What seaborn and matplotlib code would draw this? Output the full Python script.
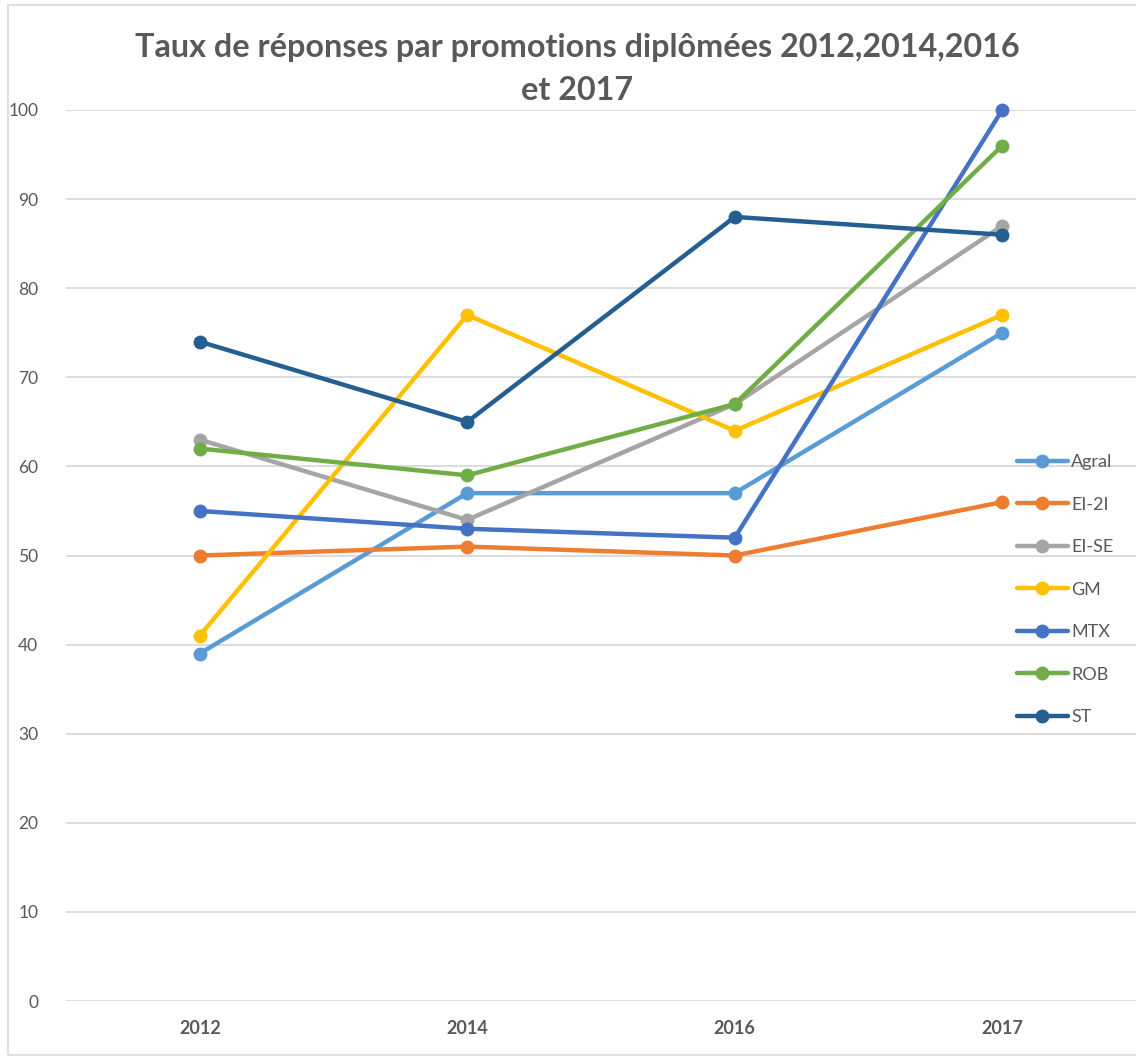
import matplotlib
matplotlib.use("Agg")
import matplotlib.pyplot as plt
import matplotlib.patches as mpatches
import seaborn as sns
import pandas as pd

years = ["2012", "2014", "2016", "2017"]
series_names = ["Agral", "EI-2I", "EI-SE", "GM", "MTX", "ROB", "ST"]
agral = [39, 57, 57, 75]
ei2i = [50, 51, 50, 56]
eise = [63, 54, 67, 87]
gm = [41, 77, 64, 77]
mtx = [55, 53, 52, 100]
rob = [62, 59, 67, 96]
st = [74, 65, 88, 86]
colors = ["#5B9BD5", "#ED7D31", "#A5A5A5", "#FFC000", "#4472C4", "#70AD47", "#255E91"]
yticks = [0, 10, 20, 30, 40, 50, 60, 70, 80, 90, 100]
title = "Taux de réponses par promotions diplômées 2012,2014,2016\net 2017"

values = [agral, ei2i, eise, gm, mtx, rob, st]
rows = []
for name, vals in zip(series_names, values):
    for y, v in zip(years, vals):
        rows.append({"Année": y, "Taux": v, "Promotion": name})
df = pd.DataFrame(rows)

sns.set_theme(style="white")
plt.rcParams["font.family"] = ["Lato", "DejaVu Sans"]

W, H = 1136, 1063
fig = plt.figure(figsize=(W / 100, H / 100), dpi=100)
ax = fig.add_axes([66 / W, 1 - 1001 / H, (1136 - 66) / W, (1001 - 110) / H])

sns.lineplot(data=df, x="Année", y="Taux", hue="Promotion", hue_order=series_names,
             palette=colors, marker="o", markersize=10, markeredgewidth=0,
             linewidth=3.2, ax=ax, sort=False, legend=True)
for ln in ax.lines:
    ln.set_clip_on(False)
    ln.set_solid_capstyle("round")

ax.set_xlim(-0.5, 3.5)
ax.set_ylim(0, 100)
ax.set_yticks(yticks)
ax.set_yticklabels([str(t) for t in yticks], color="#595959", fontsize=12.5)
ax.tick_params(axis="both", length=0)
ax.tick_params(axis="y", pad=20)
ax.tick_params(axis="x", pad=14)
for lab in ax.get_xticklabels():
    lab.set_fontweight("bold")
    lab.set_color("#595959")
    lab.set_fontsize(13)
ax.set_xlabel("")
ax.set_ylabel("")
ax.yaxis.grid(True, color="#D9D9D9", linewidth=1.3)
ax.set_axisbelow(True)
for s in ax.spines.values():
    s.set_visible(False)

ax.get_legend().remove()
handles, labels = ax.get_legend_handles_labels()
leg = fig.legend(handles, labels, loc="upper left",
                 bbox_to_anchor=(1017 / W, 1 - 454 / H), frameon=False,
                 fontsize=13, handlelength=2.8, handletextpad=0.2,
                 labelspacing=1.47, borderpad=0, borderaxespad=0)
for t in leg.get_texts():
    t.set_color("#595959")

fig.text(577 / W, 1 - 69 / H, title, ha="center", va="center",
         fontsize=23.3, fontweight="bold", color="#595959", linespacing=1.58)

fig.patches.append(mpatches.Rectangle((8 / W, 8 / H), 1.2, 1 - 13 / H,
                   transform=fig.transFigure, fill=False,
                   edgecolor="#D9D9D9", linewidth=1.2))

fig.savefig("out.png", dpi=100)
